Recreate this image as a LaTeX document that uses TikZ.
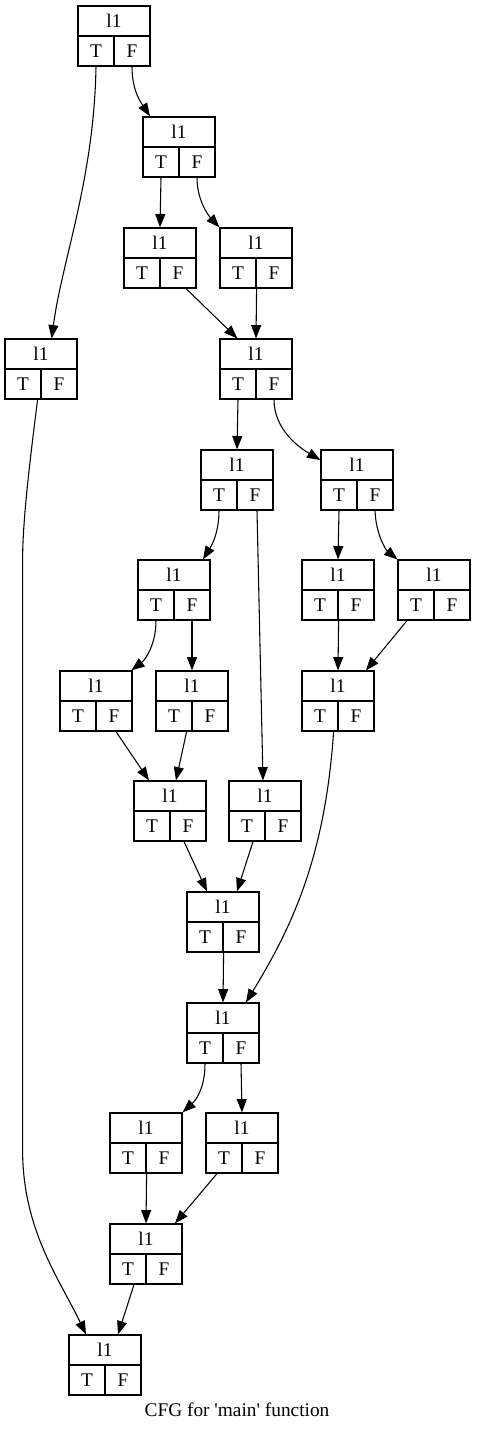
\documentclass[tikz,border=0pt]{standalone}
\usepackage{fontspec}
\setmainfont{Liberation Serif}
\newfontfamily\plainserif{Liberation Serif}
\usepackage{tikz}
\usetikzlibrary{arrows.meta}

\begin{document}
\begin{tikzpicture}[x=0.75pt, y=-0.75pt,
    head/.style={draw, line width=0.9pt, minimum width=54pt, minimum height=22.5pt, inner sep=0pt, font=\fontsize{14.5}{16}\selectfont},
    port/.style={draw, line width=0.9pt, minimum width=27pt, minimum height=22.5pt, inner sep=0pt, font=\fontsize{14.5}{16}\selectfont},
    flow/.style={-{Triangle[length=10pt, width=7.5pt]}, line width=0.8pt}]
    \useasboundingbox (0,0) rectangle (476,1432);

    \foreach \n/\cx/\top in {A/114/6, B/179/117, C/160/228, D/256/228, E/41/339, F/256/339,
        G/237/450, H/357/450, I/174/560, J/338/560, K/434/560, L/96/671, M/192/671,
        N/338/671, O/170/781, P/265/781, Q/223/892, R/223/1003, S/146/1113,
        T/242/1113, U/146/1224, V/105/1335} {
      \node[head] (b\n) at (\cx, \top+15) {l1};
      \node[port] (b\n t) at (\cx-18, \top+45) {T};
      \node[port] (b\n f) at (\cx+18, \top+45) {F};
    }

    \draw[flow] (bAt.south) .. controls (94,180) and (62,260) .. ([xshift=8pt]bE.north);
    \draw[flow] (bAf.south) .. controls (132,92) and (142,104) .. ([xshift=-21.75pt]bB.north);
    \draw[flow] (bBt.south) -- (bC.north);
    \draw[flow] (bBf.south) .. controls (197,200) and (208,215) .. (bD.north west);
    \draw[flow] ([xshift=6pt]bCf.south) -- ([xshift=-14pt]bF.north);
    \draw[flow] (bDt.south east) -- (bF.north);
    \draw[flow] ([xshift=-3pt]bEt.south east) .. controls (30,460) and (22.6,520) .. (22.6,560)
      -- (22.6,1150) .. controls (22.6,1230) and (60,1280) .. ([xshift=-14.25pt]bV.north);
    \draw[flow] (bFt.south) -- (bG.north);
    \draw[flow] (bFf.south) .. controls (274,430) and (300,448) .. ([yshift=-8pt]bH.north west);
    \draw[flow] (bGt.south) .. controls (219,535) and (210,548) .. ([xshift=21.75pt]bI.north);
    \draw[flow] ([xshift=1.5pt]bGf.south) -- ([xshift=-1.5pt]bP.north);
    \draw[flow] (bHt.south) -- (bJ.north);
    \draw[flow] (bHf.south) .. controls (376,535) and (386,550) .. (bK.north west);
    \draw[flow] (bIt.south) .. controls (156,645) and (145,660) .. ([xshift=-1pt]bL.north east);
    \draw[flow] (bIf.south) -- (bM.north);
    \draw[flow] (bJt.south east) -- (bN.north);
    \draw[flow] ([xshift=-6.75pt]bKt.south) -- ([xshift=21pt]bN.north);
    \draw[flow] ([xshift=1.5pt]bLf.south) -- ([xshift=-15.75pt]bO.north);
    \draw[flow] ([xshift=-4.5pt]bMt.south east) -- ([xshift=4.5pt]bO.north);
    \draw[flow] ([xshift=-3.75pt]bNt.south east) .. controls (325,860) and (290,930) .. ([xshift=17.25pt]bR.north);
    \draw[flow] ([xshift=-3pt]bOf.south) -- ([xshift=-12pt]bQ.north);
    \draw[flow] ([xshift=4.5pt]bPt.south) -- ([xshift=10.5pt]bQ.north);
    \draw[flow] (bQt.south east) -- (bR.north);
    \draw[flow] (bRt.south) .. controls (205,1088) and (196,1100) .. (bS.north east);
    \draw[flow] (bRf.south) -- (bT.north);
    \draw[flow] (bSt.south east) -- (bU.north);
    \draw[flow] ([xshift=-5.25pt]bTt.south) -- ([xshift=21.75pt]bU.north);
    \draw[flow] ([xshift=4.5pt]bUt.south) -- ([xshift=9.75pt]bV.north);

    \node[font=\plainserif\fontsize{14.5}{16}\selectfont] (caption) at (237,1410) {CFG for 'main' function};
\end{tikzpicture}
\end{document}
